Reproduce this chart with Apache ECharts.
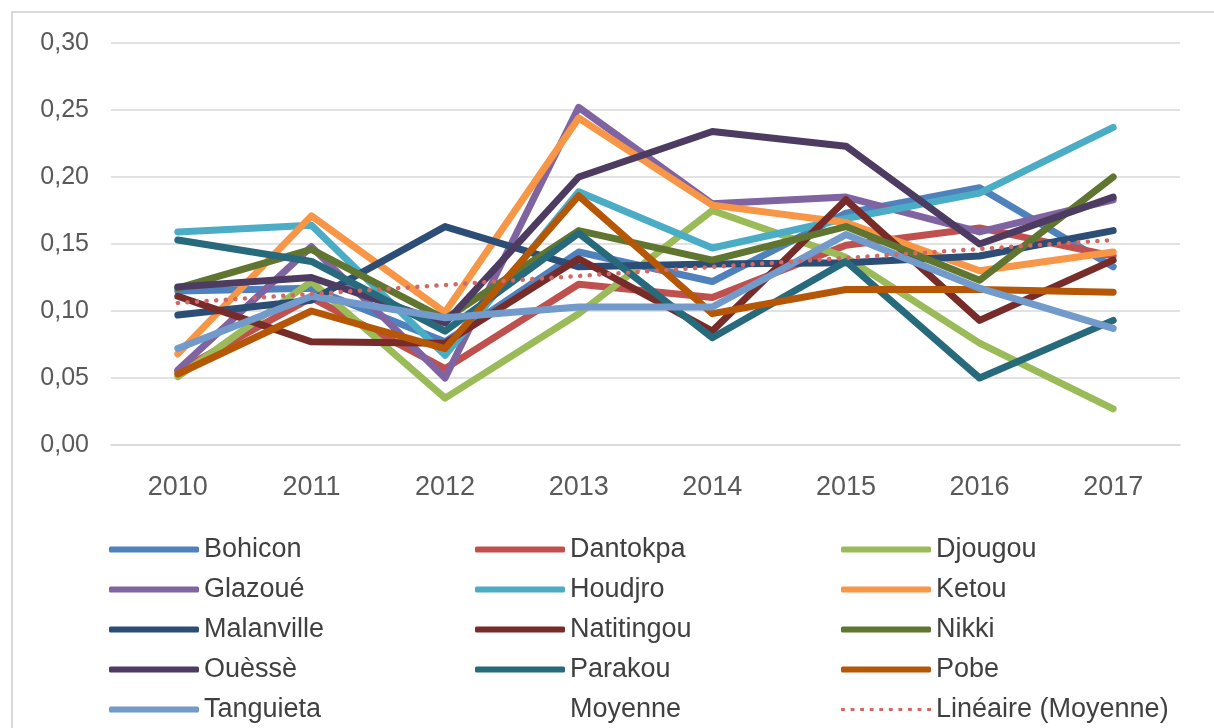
<!DOCTYPE html>
<html>
<head>
<meta charset="utf-8">
<script src="https://cdn.jsdelivr.net/npm/echarts@6/dist/echarts.min.js"></script>
<style>
html,body{margin:0;padding:0;background:#fff;}
#chart{position:absolute;left:0;top:0;width:1214px;height:728px;}
#frame{position:absolute;left:11px;top:11px;width:1220px;height:740px;border:2px solid #d9d9d9;box-sizing:border-box;pointer-events:none;}
</style>
</head>
<body>
<div id="chart"></div>
<div id="frame"></div>
<script>
const years = ['2010','2011','2012','2013','2014','2015','2016','2017'];
const yTicks = [0, 0.05, 0.10, 0.15, 0.20, 0.25, 0.30];

const bohicon    = [0.115, 0.117, 0.077, 0.144, 0.122, 0.173, 0.192, 0.133];
const dantokpa   = [0.055, 0.110, 0.057, 0.120, 0.110, 0.149, 0.162, 0.141];
const djougou    = [0.051, 0.122, 0.035, 0.098, 0.175, 0.140, 0.076, 0.027];
const glazoue    = [0.056, 0.148, 0.050, 0.252, 0.180, 0.185, 0.159, 0.183];
const houdjro    = [0.159, 0.164, 0.067, 0.189, 0.147, 0.169, 0.188, 0.237];
const ketou      = [0.068, 0.171, 0.099, 0.244, 0.179, 0.166, 0.130, 0.144];
const malanville = [0.097, 0.108, 0.163, 0.133, 0.135, 0.136, 0.141, 0.160];
const natitingou = [0.111, 0.077, 0.076, 0.139, 0.085, 0.183, 0.093, 0.138];
const nikki      = [0.117, 0.146, 0.094, 0.160, 0.138, 0.163, 0.123, 0.200];
const ouesse     = [0.118, 0.125, 0.091, 0.200, 0.234, 0.223, 0.150, 0.185];
const parakou    = [0.153, 0.137, 0.085, 0.158, 0.080, 0.137, 0.050, 0.093];
const pobe       = [0.053, 0.100, 0.072, 0.186, 0.098, 0.116, 0.116, 0.114];
const tanguieta  = [0.072, 0.111, 0.095, 0.103, 0.103, 0.157, 0.117, 0.087];
const trendEnds  = [0.106, null, null, null, null, null, null, 0.153];

const names  = ['Bohicon','Dantokpa','Djougou','Glazoué','Houdjro','Ketou','Malanville','Natitingou','Nikki','Ouèssè','Parakou','Pobe','Tanguieta'];
const values = [bohicon,dantokpa,djougou,glazoue,houdjro,ketou,malanville,natitingou,nikki,ouesse,parakou,pobe,tanguieta];
const colors = ['#4F81BD','#C0504D','#9BBB59','#8064A2','#4BACC6','#F79646','#2C4D75','#772C2A','#5F7530','#4D3B62','#276A7C','#B65708','#729ACA'];

const FONT = 'Liberation Sans';
const TREND = '#D06866';
const series = names.map((n, i) => ({
  name: n, type: 'line', data: values[i], symbol: 'none', smooth: false,
  color: colors[i],
  itemStyle: { color: colors[i] },
  lineStyle: { width: 7, color: colors[i], cap: 'round', join: 'round' },
  emphasis: { disabled: true }, z: 2 + i
}));
series.push({
  name: 'Moyenne', type: 'line', data: [], symbol: 'none',
  lineStyle: { width: 0, opacity: 0 }, itemStyle: { opacity: 0 }
});
series.push({
  name: 'Linéaire (Moyenne)', type: 'line', data: trendEnds, connectNulls: true,
  symbol: 'none', color: TREND, itemStyle: { color: TREND },
  lineStyle: { width: 4.5, color: TREND, type: [0.1, 9.5], cap: 'round' },
  emphasis: { disabled: true }, z: 30
});

const dots = 'path://' + Array.from({length: 10}, (_, k) => 'M' + (k * 3) + ',0h1.2v1h-1.2z').join(' ');
const legendText = { fontFamily: FONT, fontSize: 27, color: '#404040' };
function col(left, items) {
  return {
    left: left, top: 531, orient: 'vertical', itemWidth: 90, itemHeight: 6,
    itemGap: 13, textStyle: legendText, selectedMode: false,
    data: items.map(n => {
      if (n === 'Moyenne') return { name: n, icon: 'rect', itemStyle: { opacity: 0 } };
      if (n === 'Linéaire (Moyenne)') return { name: n, icon: dots, itemStyle: { color: TREND } };
      return { name: n, icon: 'roundRect' };
    })
  };
}

const chart = echarts.init(document.getElementById('chart'), null, { renderer: 'canvas' });
chart.setOption({
  animation: false,
  backgroundColor: '#ffffff',
  grid: { left: 111, right: 34, top: 43, bottom: 283, containLabel: false },
  legend: [
    col(104, ['Bohicon','Glazoué','Malanville','Ouèssè','Tanguieta']),
    col(470, ['Dantokpa','Houdjro','Natitingou','Parakou','Moyenne']),
    col(836, ['Djougou','Ketou','Nikki','Pobe','Linéaire (Moyenne)'])
  ],
  xAxis: {
    type: 'category', data: years, boundaryGap: true,
    axisLine: { show: true, lineStyle: { color: '#d9d9d9', width: 1.5 } },
    axisTick: { show: false },
    axisLabel: { fontFamily: FONT, fontSize: 27, color: '#595959', margin: 29 }
  },
  yAxis: {
    type: 'value', min: yTicks[0], max: yTicks[yTicks.length - 1], interval: 0.05,
    axisLine: { show: false }, axisTick: { show: false },
    splitLine: { lineStyle: { color: '#d9d9d9', width: 1.5 } },
    axisLabel: {
      fontFamily: FONT, fontSize: 25, color: '#595959', margin: 22,
      formatter: v => v.toFixed(2).replace('.', ',')
    }
  },
  series: series
});
</script>
</body>
</html>
